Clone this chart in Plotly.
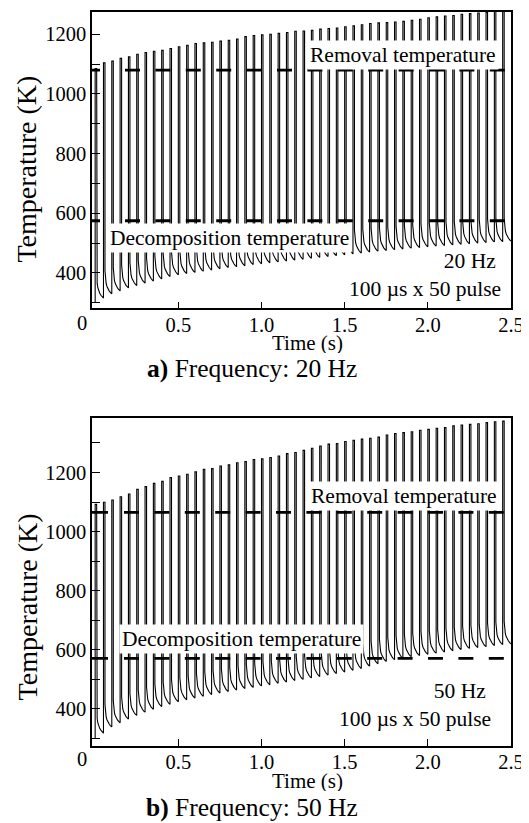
import plotly.graph_objects as go

# ---------------- data ----------------
PULSE_TIMES = [0.00, 0.05, 0.10, 0.15, 0.20, 0.25, 0.30, 0.35, 0.40, 0.45,
               0.50, 0.55, 0.60, 0.65, 0.70, 0.75, 0.80, 0.85, 0.90, 0.95,
               1.00, 1.05, 1.10, 1.15, 1.20, 1.25, 1.30, 1.35, 1.40, 1.45,
               1.50, 1.55, 1.60, 1.65, 1.70, 1.75, 1.80, 1.85, 1.90, 1.95,
               2.00, 2.05, 2.10, 2.15, 2.20, 2.25, 2.30, 2.35, 2.40, 2.45]
PERIOD = 0.05
INITIAL_TEMP = 300

PEAK_20HZ = [1085, 1104, 1110, 1119, 1124, 1133, 1139, 1143, 1146, 1152,
             1158, 1163, 1169, 1171, 1173, 1177, 1180, 1184, 1192, 1196,
             1198, 1200, 1203, 1206, 1210, 1211, 1213, 1217, 1219, 1221,
             1225, 1228, 1232, 1236, 1238, 1239, 1241, 1243, 1247, 1250,
             1255, 1258, 1261, 1263, 1267, 1269, 1271, 1273, 1276, 1278]
TROUGH_20HZ = [316, 330, 340, 350, 358, 366, 373, 380, 388, 394,
               398, 402, 406, 410, 414, 418, 421, 424, 428, 431,
               434, 437, 440, 443, 446, 449, 452, 455, 458, 461,
               464, 467, 470, 473, 475, 478, 480, 483, 485, 488,
               490, 492, 494, 496, 498, 500, 502, 504, 505, 507]

PEAK_50HZ = [1092, 1099, 1107, 1118, 1127, 1143, 1152, 1163, 1170, 1183,
             1188, 1194, 1202, 1211, 1213, 1222, 1226, 1233, 1237, 1244,
             1246, 1251, 1256, 1264, 1268, 1275, 1282, 1290, 1296, 1298,
             1305, 1309, 1313, 1316, 1320, 1327, 1332, 1335, 1338, 1343,
             1346, 1350, 1352, 1358, 1361, 1363, 1365, 1369, 1372, 1374]
TROUGH_50HZ = [317, 338, 352, 365, 377, 388, 398, 407, 415, 423,
               430, 436, 442, 448, 453, 458, 463, 468, 472, 477,
               481, 486, 490, 495, 499, 504, 509, 514, 519, 524,
               530, 536, 544, 552, 560, 566, 571, 576, 580, 584,
               588, 592, 596, 600, 604, 607, 610, 614, 617, 620]

# shape of one cooling tail (fraction of period, fraction of peak-trough span)
PEAK_HOLD = 0.18
TAIL_PHASE = [0.18, 0.24, 0.32, 0.42, 0.55, 0.70, 0.85, 1.00]
TAIL_LEVEL = [0.10, 0.065, 0.045, 0.032, 0.021, 0.012, 0.005, 0.0]

REMOVAL_20HZ, DECOMP_20HZ = 1080, 575
REMOVAL_50HZ, DECOMP_50HZ = 1065, 570

X_TICKS = [0.5, 1.0, 1.5, 2.0, 2.5]
X_TICK_TEXT = ["0.5", "1.0", "1.5", "2.0", "2.5"]
Y_TICKS = [400, 600, 800, 1000, 1200]
Y_MINOR = [300, 500, 700, 900, 1100, 1300]
X_RANGE = [-0.019, 2.5]
Y_RANGE_20HZ = [281, 1274.5]
Y_RANGE_50HZ = [273.5, 1385]


def build_curve(peaks, troughs):
    xs, ys = [PULSE_TIMES[0]], [INITIAL_TEMP]
    for t, p, lo in zip(PULSE_TIMES, peaks, troughs):
        xs += [t, t + PEAK_HOLD * PERIOD]
        ys += [p, p]
        for ph, lv in zip(TAIL_PHASE, TAIL_LEVEL):
            xs.append(t + ph * PERIOD)
            ys.append(lo + lv * (p - lo))
    return xs, ys


FONT = "Liberation Serif, serif"
PAGE_OFF = 8                       # default body margin of the html page
W, H = 529 - PAGE_OFF, 823 - PAGE_OFF
ML, MR, MT, MB = 92 - PAGE_OFF, 18, 10 - PAGE_OFF, 77
PW, PH = W - ML - MR, H - MT - MB


def px_x(px):
    return (px - PAGE_OFF - ML) / PW


def px_y(py):
    return (H - MB - (py - PAGE_OFF)) / PH


fig = go.Figure()

x1, y1 = build_curve(PEAK_20HZ, TROUGH_20HZ)
x2, y2 = build_curve(PEAK_50HZ, TROUGH_50HZ)
fig.add_trace(go.Scatter(x=x1, y=y1, mode="lines", xaxis="x", yaxis="y",
                         line=dict(color="black", width=1.1), hoverinfo="skip"))
fig.add_trace(go.Scatter(x=x2, y=y2, mode="lines", xaxis="x2", yaxis="y2",
                         line=dict(color="black", width=1.1), hoverinfo="skip"))

dash_top = "8px,25px" + ",15px,15.4px" * 14
dash_bot = "16px,16px" + ",15px,15.4px" * 14
for lvl, xa, ya, dsh in [(REMOVAL_20HZ, "x", "y", dash_top), (DECOMP_20HZ, "x", "y", dash_top),
                         (REMOVAL_50HZ, "x2", "y2", dash_bot), (DECOMP_50HZ, "x2", "y2", dash_bot)]:
    fig.add_trace(go.Scatter(x=X_RANGE, y=[lvl, lvl], mode="lines", xaxis=xa, yaxis=ya,
                             line=dict(color="black", width=2.8, dash=dsh), hoverinfo="skip"))

top_dom = [px_y(307.3), 1.0]
bot_dom = [0.0, px_y(417)]

xaxis_common = dict(range=X_RANGE, tickmode="array", tickvals=X_TICKS, ticktext=X_TICK_TEXT,
                    ticks="inside", ticklen=7, tickwidth=1.3, tickcolor="black",
                    ticklabelstandoff=-3,
                    showline=True, linecolor="black", linewidth=1.5, mirror=True,
                    showgrid=False, zeroline=False,
                    tickfont=dict(family=FONT, size=20.5, color="black"))
yaxis_common = dict(tickmode="array", tickvals=Y_TICKS,
                    ticks="inside", ticklen=8, tickwidth=1.3, tickcolor="black",
                    minor=dict(tickvals=Y_MINOR, ticks="inside", ticklen=8, tickwidth=1.3,
                               tickcolor="black", showgrid=False),
                    showline=True, linecolor="black", linewidth=1.5, mirror=True,
                    showgrid=False, zeroline=False,
                    tickfont=dict(family=FONT, size=20.5, color="black"))

fig.update_layout(
    width=W, height=H, margin=dict(l=ML, r=MR, t=MT, b=MB),
    paper_bgcolor="white", plot_bgcolor="white", showlegend=False,
    xaxis=dict(domain=[0, 1], anchor="y", **xaxis_common),
    yaxis=dict(domain=top_dom, anchor="x", range=Y_RANGE_20HZ, **yaxis_common),
    xaxis2=dict(domain=[0, 1], anchor="y2", **xaxis_common),
    yaxis2=dict(domain=bot_dom, anchor="x2", range=Y_RANGE_50HZ, **yaxis_common),
)


def ann(text, px, py, size=21.5, xanchor="center", box=False, angle=0, h=None, align="center"):
    d = dict(text=text, x=px_x(px), y=px_y(py), xref="paper", yref="paper",
             xanchor=xanchor, yanchor="middle", showarrow=False, textangle=angle,
             align=align, font=dict(family=FONT, size=size, color="black"))
    if h is not None:
        d.update(height=h, valign="middle")
    if box:
        d.update(bgcolor="white", borderpad=2)
    fig.add_annotation(**d)


# panel a
ann("Temperature (K)", 27, 168, size=28, angle=-90)
ann("Time (s)", 307.5, 342, size=21, h=20)
ann("0", 81.7, 321.7, size=20.5)
ann("<b>a)</b> Frequency: 20 Hz", 252, 367, size=25.5, h=29)
ann("Removal temperature", 403, 53, box=True)
ann("Decomposition temperature", 229, 237, box=True)
ann("20 Hz&nbsp;<br>100 \u00b5s x 50 pulse", 503, 274, xanchor="right", align="right")

# panel b
ann("Temperature (K)", 27, 607, size=28, angle=-90)
ann("Time (s)", 307.5, 781, size=21, h=20)
ann("0", 81.7, 759, size=20.5)
ann("<b>b)</b> Frequency: 50 Hz", 252, 808, size=25.5, h=29)
ann("Removal temperature", 404, 495, box=True)
ann("Decomposition temperature", 241, 639, box=True)
ann("50 Hz&nbsp;<br>100 \u00b5s x 50 pulse", 493, 705, xanchor="right", align="right")

fig.write_html("out.html")
